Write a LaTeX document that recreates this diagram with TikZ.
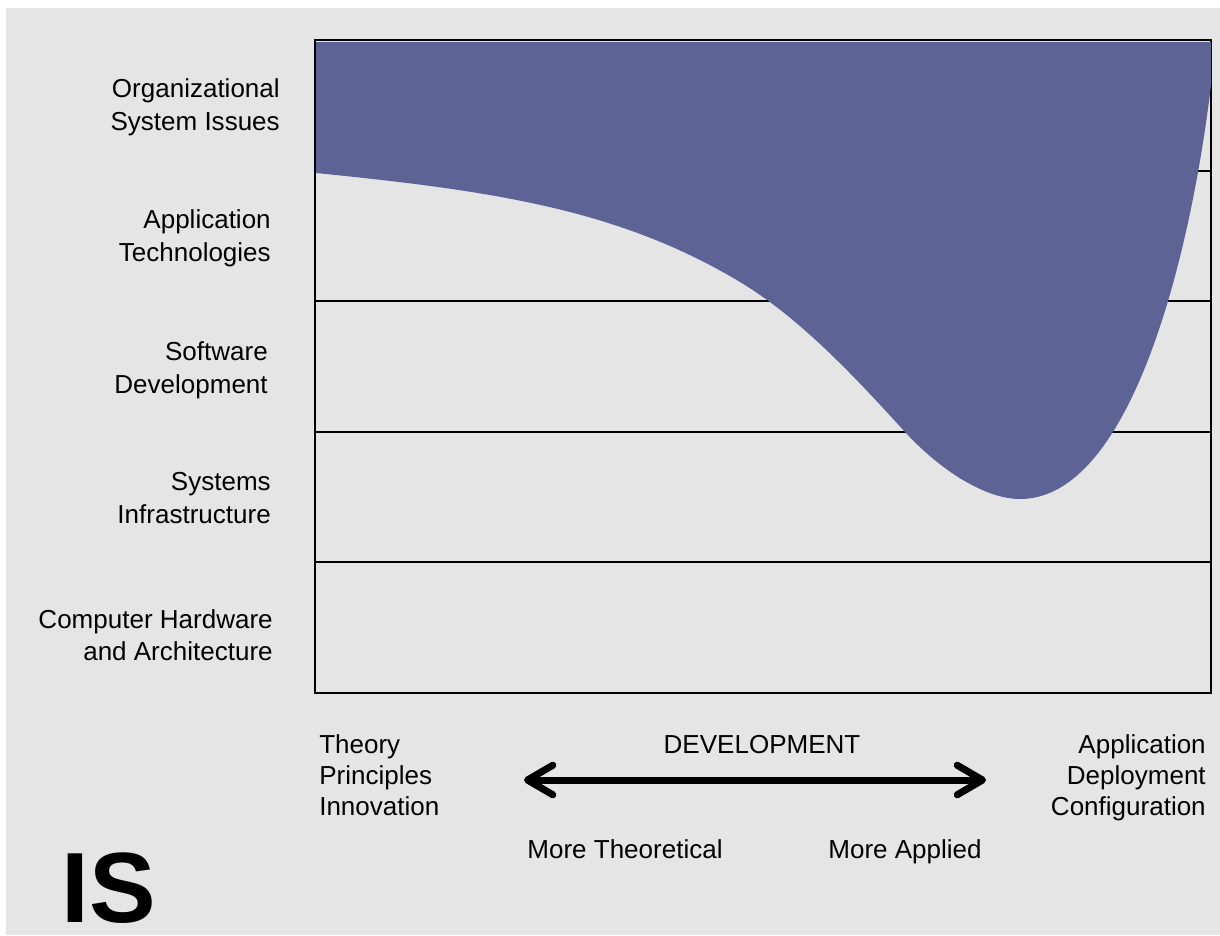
\documentclass[tikz,border=0pt]{standalone}
\usepackage{fontspec}
\setmainfont{Liberation Sans}
\usetikzlibrary{arrows.meta}
\definecolor{bandgray}{RGB}{229,229,229}
\definecolor{isblue}{RGB}{93,99,149}

\begin{document}
\begin{tikzpicture}[x=0.025cm,y=-0.025cm,
    lbl/.style = {inner sep=0, align=right, anchor=east, font=\fontsize{18.5}{23.2}\selectfont},
    side/.style = {inner sep=0, font=\fontsize{18.5}{22.2}\selectfont},
    arr/.style = {line width=5pt, {Straight Barb[length=18pt,width=21pt,line width=5pt,round]}-{Straight Barb[length=18pt,width=21pt,line width=5pt,round]}}]
                \useasboundingbox (0,0) rectangle (1220,935);
                \fill[white] (0,0) rectangle (1220,935);
                \fill[bandgray] (6,8) rectangle (1220,935);
                % frame and bands
                \draw[line width=1.3pt] (315,40) rectangle (1211,693);
                \foreach \y in {171,301,432,562}
                    \draw[line width=1.3pt] (315,\y) -- (1211,\y);
                % IS coverage
                \fill[isblue] (316,42) -- (1211,42) -- (1211,85)
                    .. controls (1190,260) and (1130,499) .. (1020,499)
                    .. controls (985,499) and (940,470) .. (905,432)
                    .. controls (855,377) and (800,318) .. (740,282)
                    .. controls (620,210) and (496,191) .. (316,173)
                    -- cycle;
                \node[lbl] (org) at (280,107) {Organizational\\System Issues};
                \node[lbl] (app) at (271,238) {Application\\Technologies};
                \node[lbl] (soft) at (268,370) {Software\\Development};
                \node[lbl] (sys) at (271,498) {Systems\\Infrastructure};
                \node[lbl] (comp) at (273,635) {Computer Hardware\\and Architecture};
                \node[side, align=left, anchor=west] (theory) at (319,775) {Theory\\Principles\\Innovation};
                \node[side, align=right, anchor=east] (applied) at (1206,778) {Application\\Deployment\\Configuration};
                \node[side] (dev) at (762,745) {DEVELOPMENT};
                \coordinate (l) at (524,780);
                \coordinate (r) at (986,780);
                \draw[arr] (l) -- (r);
                \node[side, anchor=base] (mt) at (625,858) {More Theoretical};
                \node[side, anchor=base] (ma) at (905,858) {More Applied};
                \node[inner sep=0, anchor=base west, font=\fontsize{71}{71}\selectfont\bfseries] (is) at (61,922) {IS};
            \end{tikzpicture}
\end{document}
